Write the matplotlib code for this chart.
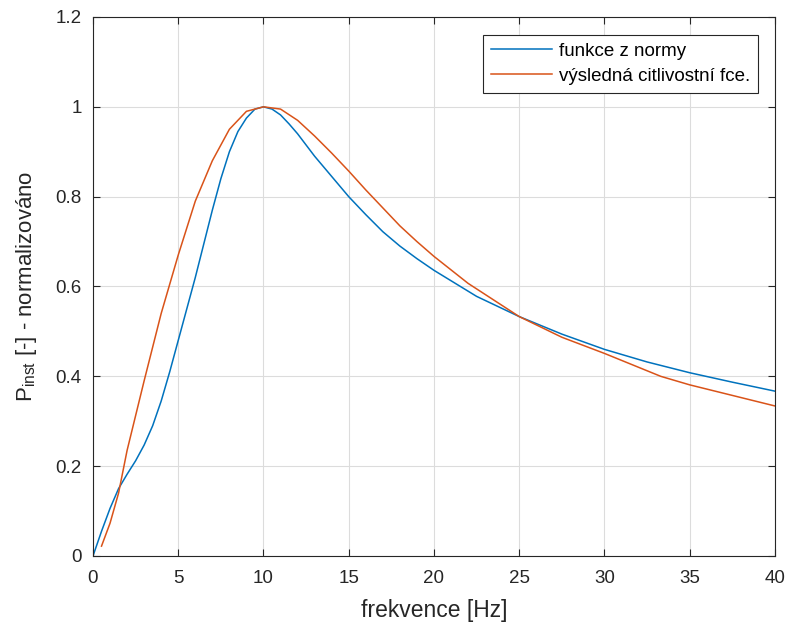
import matplotlib
matplotlib.use("Agg")
import matplotlib.pyplot as plt

# funkce z normy (blue)
f_norm = [0, 0.5, 1.0, 1.5, 2.0, 2.5, 3.0, 3.5, 4.0, 4.5, 5.0, 5.5, 6.0, 6.5,
          7.0, 7.5, 8.0, 8.5, 9.0, 9.5, 10.0, 10.5, 11.0, 11.5, 12.0, 13.0, 14.0,
          15.0, 16.0, 17.0, 18.0, 19.0, 20.0, 22.5, 25.0, 27.5, 30.0, 32.5, 35.0,
          37.5, 40.0]
v_norm = [0.0, 0.055, 0.106, 0.150, 0.182, 0.212, 0.247, 0.29, 0.345, 0.41, 0.48,
          0.55, 0.62, 0.695, 0.77, 0.84, 0.90, 0.945, 0.975, 0.995, 1.0, 0.995,
          0.982, 0.962, 0.94, 0.89, 0.845, 0.80, 0.76, 0.722, 0.69, 0.662, 0.636,
          0.578, 0.533, 0.494, 0.46, 0.432, 0.408, 0.387, 0.367]

# výsledná citlivostní fce. (orange)
f_res = [0.5, 1.0, 1.5, 2.0, 3.0, 4.0, 5.0, 6.0, 7.0, 8.0, 9.0, 10.0, 11.0, 12.0,
         13.0, 14.0, 15.0, 16.0, 17.0, 18.0, 19.0, 20.0, 22.0, 25.0, 27.5, 30.0,
         33.3, 35.0, 40.0]
v_res = [0.022, 0.073, 0.14, 0.235, 0.39, 0.54, 0.67, 0.79, 0.88, 0.95, 0.99, 1.0,
         0.995, 0.97, 0.935, 0.897, 0.857, 0.815, 0.775, 0.735, 0.70, 0.667, 0.607,
         0.533, 0.487, 0.451, 0.40, 0.381, 0.334]

plt.rcParams.update({
    "font.family": ["Liberation Sans", "DejaVu Sans"],
    "mathtext.default": "regular",
    "font.size": 13,
})

fig = plt.figure(figsize=(7.9, 6.25), dpi=100)
ax = fig.add_axes([0.1177, 0.1104, 0.8633, 0.8624])

ax.plot(f_norm, v_norm, color="#0072BD", linewidth=1.1, label="funkce z normy")
ax.plot(f_res, v_res, color="#D95319", linewidth=1.1, label="výsledná citlivostní fce.")

ax.set_xlim(0, 40)
ax.set_ylim(0, 1.2)
ax.set_xticks(range(0, 41, 5))
ax.set_yticks([0, 0.2, 0.4, 0.6, 0.8, 1.0, 1.2])
ax.set_yticklabels(["0", "0.2", "0.4", "0.6", "0.8", "1", "1.2"])
ax.grid(True, color="#dcdcdc", linewidth=0.8)
ax.set_axisbelow(True)
ax.tick_params(direction="in", length=5, colors="#262626", labelsize=13.5,
               top=True, right=True, labeltop=False, labelright=False)
ax.tick_params(axis="x", pad=10)
ax.tick_params(axis="y", pad=8)
for s in ax.spines.values():
    s.set_color("#262626")
    s.set_linewidth(0.8)

ax.set_xlabel("frekvence [Hz]", fontsize=16.5, color="#262626", labelpad=9)
ax.set_ylabel("P$_{inst}$ [-] - normalizováno", fontsize=16, color="#262626",
              labelpad=12)

leg = ax.legend(loc="upper right", fontsize=13.5, fancybox=False, framealpha=1,
                edgecolor="#262626", handlelength=3.25, handletextpad=0.35,
                borderpad=0.43, labelspacing=0.41, borderaxespad=0,
                bbox_to_anchor=(0.975, 0.967))
leg.get_frame().set_linewidth(0.8)

fig.savefig("out.png", dpi=100)
